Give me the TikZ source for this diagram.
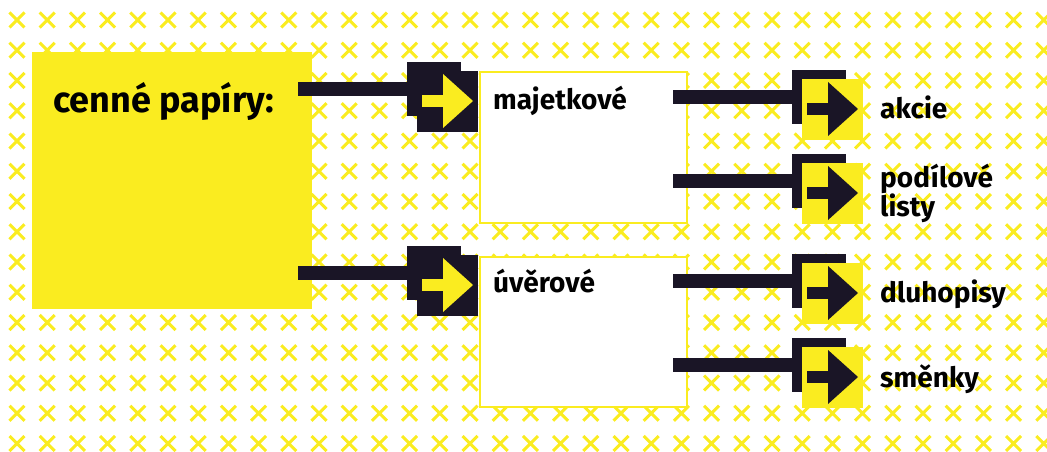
\documentclass[tikz,border=0pt]{standalone}
\usepackage{fontspec}
\setmainfont{Fira Sans}
\definecolor{vfyellow}{RGB}{250,236,32}
\definecolor{vfdark}{RGB}{26,21,38}
\tikzset{
  pics/pointer/.style args={#1/#2/#3}{% #1=back square, #2=front square, #3=arrow
    code = {
      \coordinate (-in) at (-10, 18);
      \fill [#1] (-10, -9) rectangle (44, 45);
      \fill [#2] (0, 0) rectangle (61, 61);
      \fill [#3] (5, 24) rectangle (27, 36);
      \fill [#3] (26, 3) -- (56, 30) -- (26, 57) -- cycle;
}}}
\tikzset{
  cross/.style = {vfyellow, line width=3pt},
  bar/.style = {vfdark, line width=14pt},
  panel/.style = {draw=vfyellow, line width=2pt, fill=white, anchor=north west, inner sep=0, minimum width=207pt},
  itemtext/.style = {font=\fontsize{28}{29}\selectfont\bfseries, inner sep=0, anchor=base west, align=left},
}

\begin{document}
\begin{tikzpicture}[x=1pt, y=-1pt]
  \useasboundingbox (0, 0) rectangle (1047, 452);
  \clip (0, 0) rectangle (1047, 452);
  % background pattern
  \foreach \i in {0,...,34}
    \foreach \j in {0,...,14}
      \draw [cross] ({17+30.2*\i}, {20+30.25*\j}) +(-7.5, -7.5) -- +(7.5, 7.5) +(-7.5, 7.5) -- +(7.5, -7.5);
  % boxes
  \node (papiry) [fill=vfyellow, anchor=north west, inner sep=0, minimum width=280pt, minimum height=257pt] at (32, 52) {};
  \node (majetkove) [panel, minimum height=151pt] at (479, 71) {};
  \node (uverove) [panel, minimum height=150pt] at (479, 256) {};
  % arrows
  \pic (ptr1) at (417, 71) {pointer={vfdark/vfdark/vfyellow}};
  \pic (ptr2) at (417, 255) {pointer={vfdark/vfdark/vfyellow}};
  \pic (ptr3) at (802, 79) {pointer={vfdark/vfyellow/vfdark}};
  \pic (ptr4) at (802, 163) {pointer={vfdark/vfyellow/vfdark}};
  \pic (ptr5) at (802, 263) {pointer={vfdark/vfyellow/vfdark}};
  \pic (ptr6) at (802, 347) {pointer={vfdark/vfyellow/vfdark}};
  \draw [bar] ([xshift=-14pt]papiry.east |- ptr1-in) -- (ptr1-in);
  \draw [bar] ([xshift=-14pt]papiry.east |- ptr2-in) -- (ptr2-in);
  \draw [bar] ([xshift=-15pt]majetkove.east |- ptr3-in) -- (ptr3-in);
  \draw [bar] ([xshift=-15pt]majetkove.east |- ptr4-in) -- (ptr4-in);
  \draw [bar] ([xshift=-15pt]uverove.east |- ptr5-in) -- (ptr5-in);
  \draw [bar] ([xshift=-15pt]uverove.east |- ptr6-in) -- (ptr6-in);
  % texts
  \node (title) [itemtext, font=\fontsize{36}{40}\selectfont\bfseries] at (53, 112) {cenné papíry:};
  \node (majetkovetext) [itemtext] at (493, 109) {majetkové};
  \node (uverovetext) [itemtext] at (493, 292) {úvěrové};
  \node (akcie) [itemtext] at (880, 118) {akcie};
  \node (listy) [itemtext] at (880, 216) {podílové\\listy};
  \node (dluhopisy) [itemtext] at (880, 302) {dluhopisy};
  \node (smenky) [itemtext] at (880, 387) {směnky};
\end{tikzpicture}
\end{document}
